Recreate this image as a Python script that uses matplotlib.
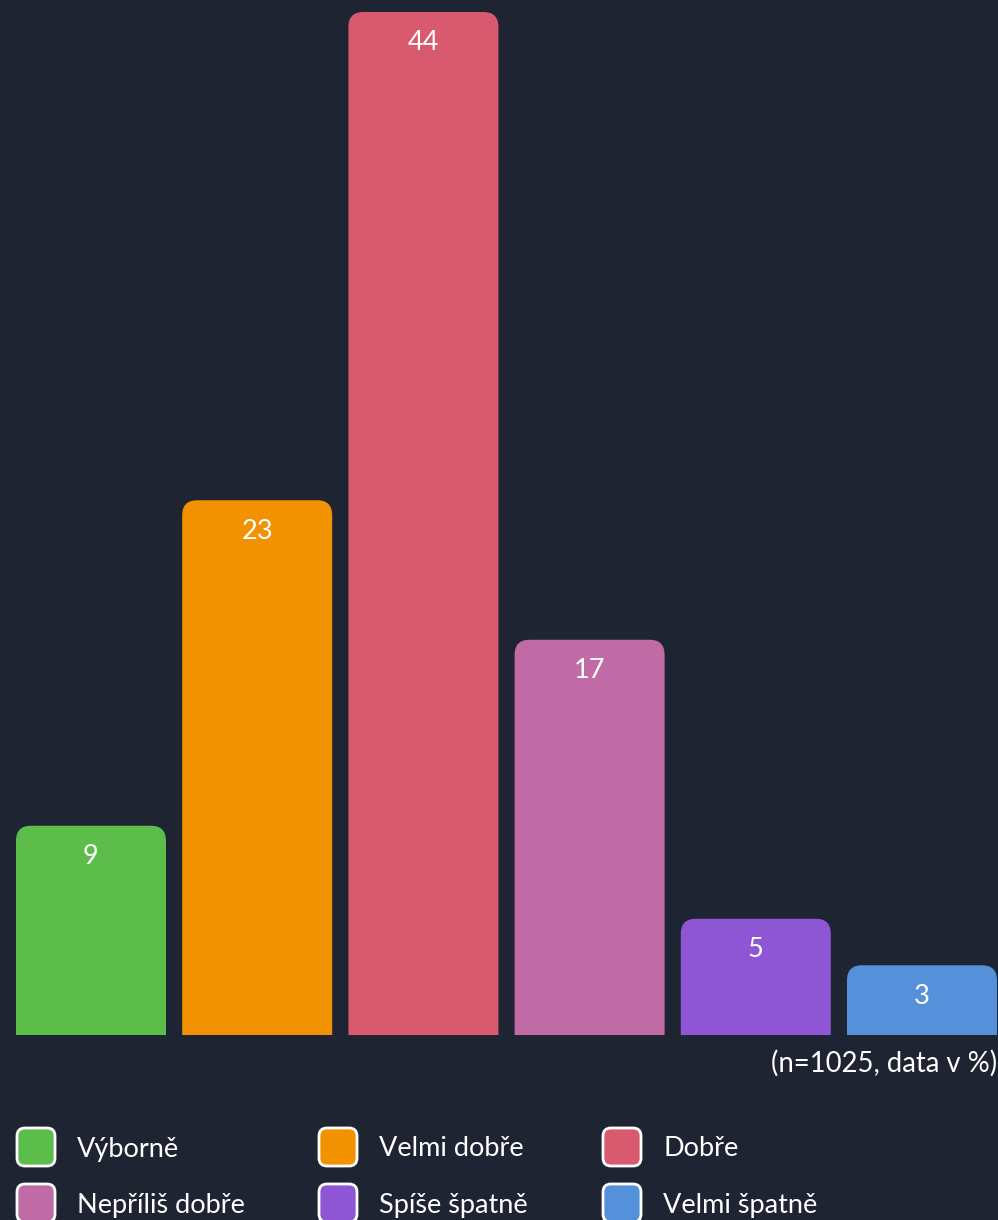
import numpy as np
import matplotlib.pyplot as plt
from matplotlib.path import Path
from matplotlib.patches import PathPatch, FancyBboxPatch

# Data
categories = ["Výborně", "Velmi dobře", "Dobře", "Nepříliš dobře", "Spíše špatně", "Velmi špatně"]
values = [9, 23, 44, 17, 5, 3]
colors = ["#5cbd4a", "#f39200", "#d95a6e", "#c06ba6", "#8e56d5", "#5591db"]
note = "(n=1025, data v %)"

BG = "#1f2433"
W, H = 998, 1220

plt.rcParams["font.family"] = ["Lato", "DejaVu Sans"]

fig = plt.figure(figsize=(W / 100, H / 100), dpi=100, facecolor=BG)
# axes: bars from x=16..997 px, baseline y=1035 px, top (44) at y=12 px
ax = fig.add_axes([16 / W, (H - 1035) / H, 981 / W, 1023 / H])
ax.set_facecolor(BG)
for s in ax.spines.values():
    s.set_visible(False)
ax.set_xticks([])
ax.set_yticks([])

bar_w = 150 / 166.2
x = np.arange(len(values))
ax.set_xlim(-bar_w / 2, len(values) - 1 + bar_w / 2)
ax.set_ylim(0, max(values))

# rounded top corners, radius ~15 px
px_x = 981 / (len(values) - 1 + bar_w)
px_y = 1023 / max(values)
rx, ry = 15 / px_x, 15 / px_y

for xi, v, c in zip(x, values, colors):
    l, r = xi - bar_w / 2, xi + bar_w / 2
    verts = [(l, 0), (l, v - ry), (l, v), (l + rx, v), (r - rx, v), (r, v), (r, v - ry), (r, 0), (l, 0)]
    codes = [Path.MOVETO, Path.LINETO, Path.CURVE3, Path.CURVE3, Path.LINETO,
             Path.CURVE3, Path.CURVE3, Path.LINETO, Path.CLOSEPOLY]
    ax.add_patch(PathPatch(Path(verts, codes), facecolor=c, edgecolor="none"))
    ax.annotate(str(v), (xi, v), xytext=(0, -31 * 72 / 100), textcoords="offset points",
                ha="center", va="center", color="white", fontsize=19.5)

fig.text(997 / W, 1 - 1063 / H, note, ha="right", va="center", color="white", fontsize=19.8)

# legend
col_x = [16, 318, 602]
row_y = [1147, 1203]
box = 40
for i, (lab, c) in enumerate(zip(categories, colors)):
    cx = col_x[i % 3]
    cy = row_y[i // 3]
    fig.patches.append(FancyBboxPatch(
        ((cx + 1) / W, 1 - (cy + box / 2 - 1) / H), (box - 2) / W, (box - 2) / H,
        boxstyle="round,pad=0,rounding_size=0.008",
        transform=fig.transFigure, facecolor=c, edgecolor="white", linewidth=2,
        mutation_aspect=W / H))
    fig.text((cx + 61) / W, 1 - (cy + 2) / H, lab, ha="left", va="center", color="white", fontsize=19.5)

fig.savefig("out.png", dpi=100, facecolor=BG)
